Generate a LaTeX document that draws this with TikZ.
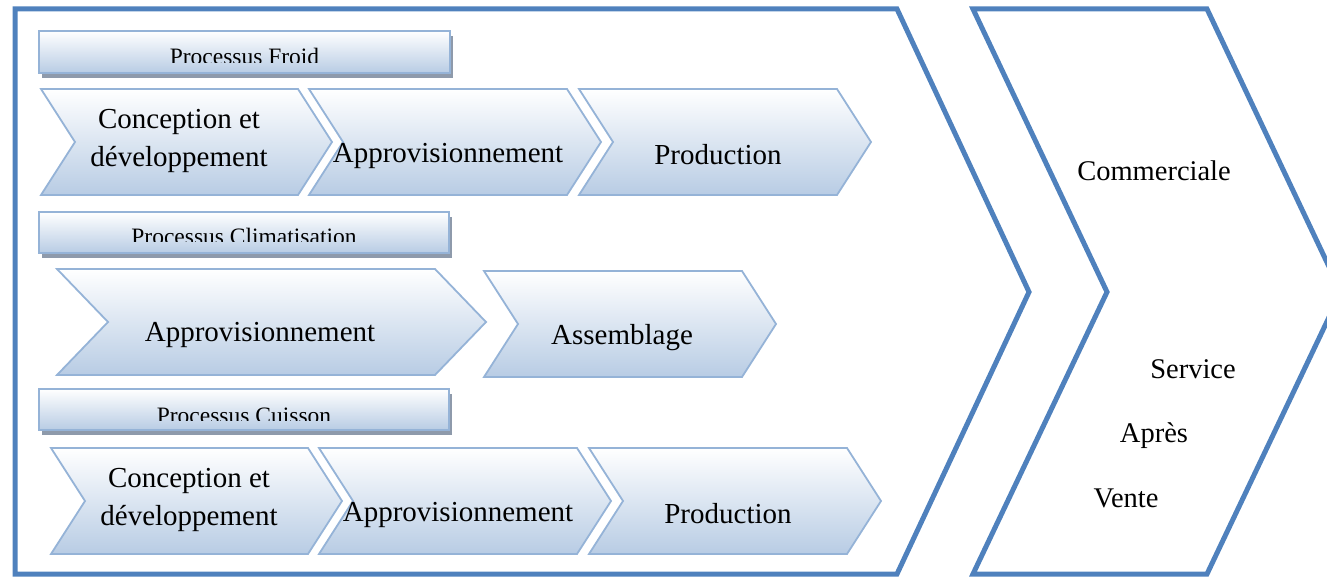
\documentclass[tikz,border=0pt]{standalone}
\usepackage{fontspec}
\setmainfont{Liberation Serif}
\definecolor{outline}{HTML}{4F81BD}
\definecolor{chevborder}{HTML}{95B3D7}
\definecolor{chevbottom}{HTML}{B8CCE4}
\definecolor{shadowgray}{HTML}{8E9AAB}
\tikzset{
  chevbox/.style={draw=chevborder, line width=1.8pt, top color=white, bottom color=chevbottom, line join=miter},
  barbox/.style={draw=chevborder, line width=1.8pt, top color=white, bottom color=chevbottom},
  barshadow/.style={fill=shadowgray},
  bigchev/.style={draw=outline, line width=5pt, line join=miter},
  maintext/.style={inner sep=0pt, align=center, font=\fontsize{29}{38}\selectfont},
  bartext/.style={inner sep=0pt, anchor=base, font=\fontsize{23.5}{28}\selectfont},
  sidetext/.style={inner sep=0pt, font=\fontsize{28.5}{32}\selectfont}
}
% #1 x left, #2 x right, #3 y top, #4 y bottom, #5 depth
\newcommand\ChevPath[5]{%
  \path[chevbox] (#1,#3) -- (#2,#3) -- ({#2+#5},{(#3+#4)/2}) -- (#2,#4) -- (#1,#4) -- ({#1+#5},{(#3+#4)/2}) -- cycle;}
% #1 x left, #2 x right, #3 y top, #4 y bottom, #5 clip y, #6 text, #7 name, #8 baseline y
\newcommand\ProcBar[8]{%
  \fill[barshadow] ({#1+3},{#3+5}) rectangle ({#2+3},{#4+5});
  \path[barbox] (#1,#3) rectangle (#2,#4);
  \begin{scope}
    \clip (#1,#3) rectangle (#2,#5);
    \node[bartext] (#7) at ({(#1+#2)/2},#8) {#6};
  \end{scope}}
\begin{document}
\begin{tikzpicture}[x=1pt,y=-1pt]
\useasboundingbox (0,0) rectangle (1327,577);
\begin{scope}
\clip (0,0) rectangle (1327,577);
% big chevrons
\path[bigchev] (15,9) -- (897,9) -- (1029,292) -- (897,574) -- (15,574) -- cycle;
\path[bigchev] (973,9) -- (1207,9) -- (1341,292) -- (1207,574) -- (973,574) -- (1107,292) -- cycle;
\end{scope}
% process bars
\ProcBar{39}{450}{31}{73}{63}{Processus Froid}{barfroid}{65}
\ProcBar{39}{449}{212}{253}{242}{Processus Climatisation}{barclim}{245}
\ProcBar{39}{449}{389}{430}{420}{Processus Cuisson}{barcuis}{423}
% row 1
\ChevPath{41}{298}{89}{195}{34}
\ChevPath{309}{567}{89}{195}{34}
\ChevPath{579}{837}{89}{195}{34}
\node[maintext] (r1a) at (179,141) {Conception et\\développement};
\node[maintext] (r1b) at (448,156) {Approvisionnement};
\node[maintext] (r1c) at (718,155) {Production};
% row 2
\ChevPath{57}{435}{269}{375}{51}
\ChevPath{484}{742}{271}{377}{34}
\node[maintext] (r2a) at (260,335) {Approvisionnement};
\node[maintext] (r2b) at (622,338) {Assemblage};
% row 3
\ChevPath{51}{308}{448}{554}{34}
\ChevPath{319}{577}{448}{554}{34}
\ChevPath{589}{847}{448}{554}{34}
\node[maintext] (r3a) at (189,500) {Conception et\\développement};
\node[maintext] (r3b) at (458,515) {Approvisionnement};
\node[maintext] (r3c) at (728,514) {Production};
% right chevron texts
\node[sidetext] (comm) at (1154,171) {Commerciale};
\node[sidetext] (serv) at (1193,369) {Service};
\node[sidetext] (apres) at (1154,436) {Après};
\node[sidetext] (vente) at (1126,498) {Vente};
\end{tikzpicture}
\end{document}
